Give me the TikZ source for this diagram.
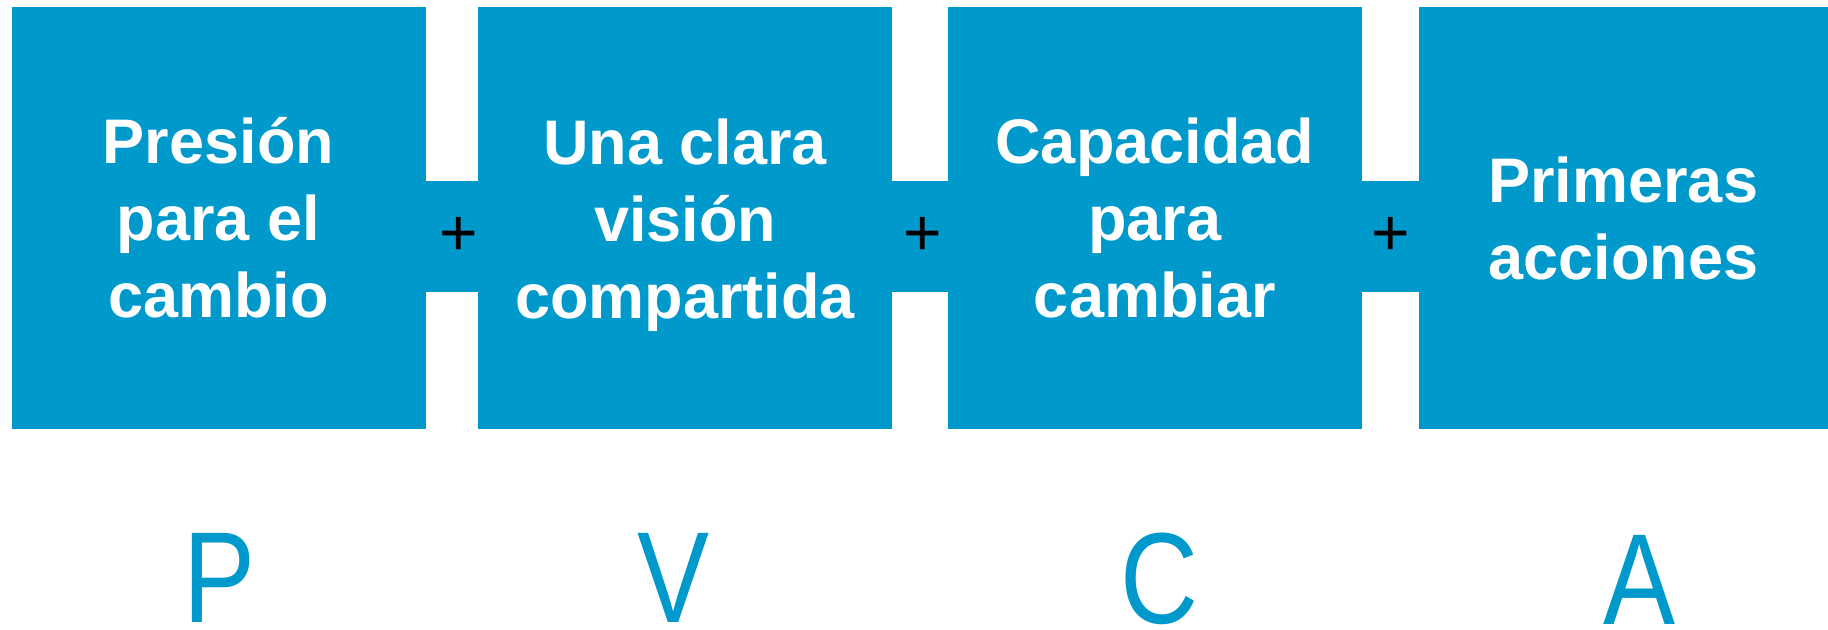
\documentclass[tikz,border=0pt]{standalone}
\usepackage{fontspec}
\setmainfont{Liberation Sans}
\usepackage{tikz}
\definecolor{pvblue}{HTML}{0099CC}
\newcommand{\nodepth}[1]{\raisebox{0pt}[\height][0pt]{#1}}

\begin{document}
\begin{tikzpicture}[x=0.5pt,y=-0.5pt,
	box/.style={fill=pvblue,text=white,align=center,inner sep=0pt,minimum width=207pt,minimum height=211.15pt,font=\fontsize{31.5}{38.5}\selectfont\bfseries},
	plus/.style={fill=pvblue,inner sep=0pt,minimum width=40pt,minimum height=55.5pt,font=\fontsize{33}{33}\selectfont},
	letter/.style={text=pvblue,inner sep=0pt,font=\fontsize{54}{54}\selectfont}]
	\useasboundingbox (0,0) rectangle (1828,630);
	
	%boxes
	\node[box] (pres) at (218.5,218){Presi\'on\\para el\\cambio};
	\node[box] (vis) at (685.1,218){\vphantom{\'o}Una clara\\visi\'on\\\nodepth{compartida}};
	\node[box] (cap) at (1154.8,218){\vphantom{\'o}Capacidad\\para\\cambiar};
	\node[box,minimum width=204.75pt] (acc) at (1623.25,218){\vphantom{\'o}Primeras\\acciones};
	
	%plus joints
	\node[plus] (p1) at (459,236.5){+};
	\node[plus] (p2) at (923,236.5){+};
	\node[plus] (p3) at (1391,236.5){+};
	
	%letters
	\node[letter] (lp) at (220,578){\scalebox{1}[1.2]{P}};
	\node[letter] (lv) at (674,578){\scalebox{1}[1.2]{V}};
	\node[letter] (lc) at (1159,579){\scalebox{1}[1.2]{C}};
	\node[letter] (la) at (1640,580){\scalebox{1}[1.2]{A}};
\end{tikzpicture}
\end{document}
